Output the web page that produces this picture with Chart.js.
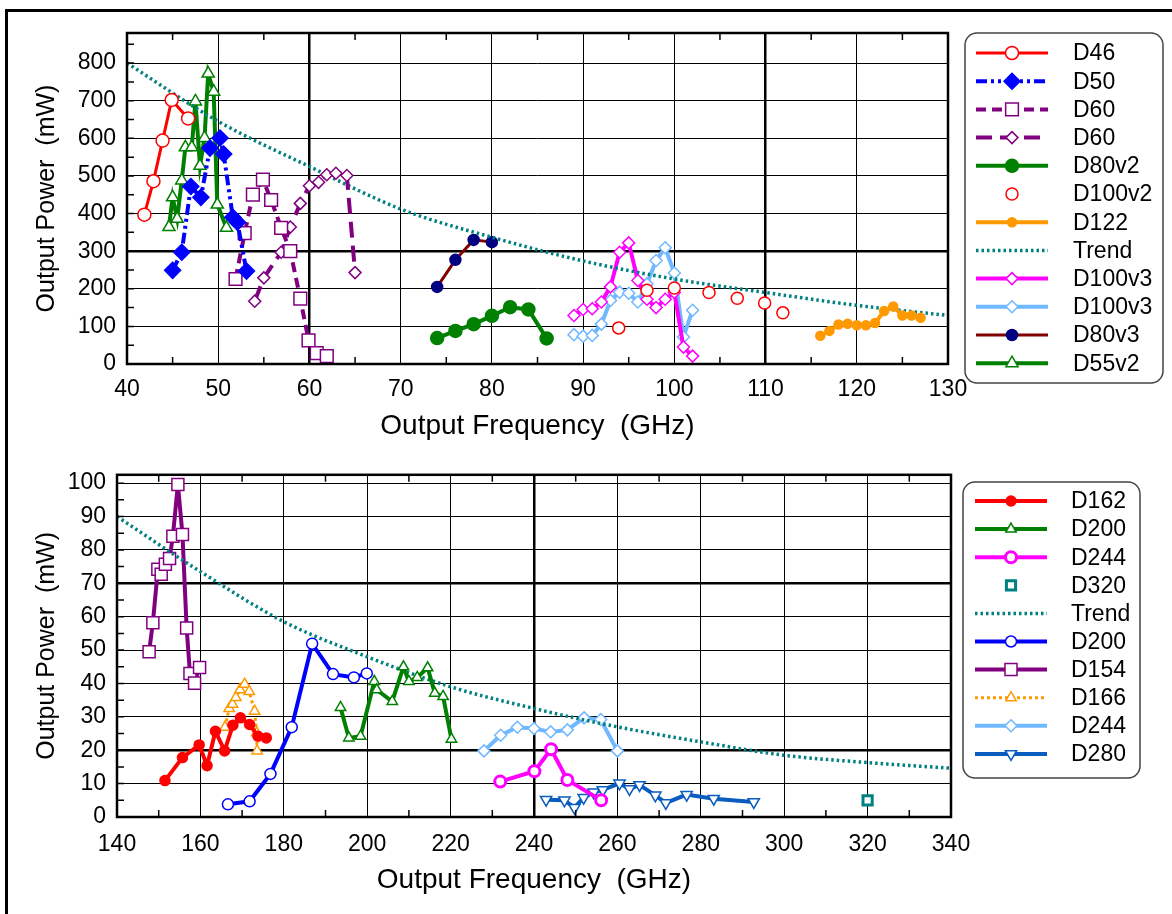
<!DOCTYPE html>
<html>
<head>
<meta charset="utf-8">
<script src="https://cdn.jsdelivr.net/npm/chart.js@4"></script>
<style>
  body { margin: 0; background: #fff; width: 1172px; height: 914px; overflow: hidden; position: relative; }
  #frame { position: absolute; left: 5px; top: 9px; width: 1200px; height: 940px; border-top: 3px solid #000; border-left: 3px solid #000; }
  canvas { position: absolute; left: 0; }
  #c1 { top: 0; }
  #c2 { top: 450px; }
</style>
</head>
<body>
<div id="frame"></div>
<canvas id="c1" width="1172" height="450"></canvas>
<canvas id="c2" width="1172" height="464"></canvas>
<script>
// ---- upper panel: 40-130 GHz (frequency GHz, power mW) ----
const d46F = [41.9, 42.9, 43.9, 44.9, 46.7];
const d46P = [397, 486, 594, 702, 653];
const d50F = [45, 46, 47, 48.1, 49.1, 50.2, 50.6, 51.6, 52.1, 53.1];
const d50P = [249, 297, 472, 443, 574, 601, 558, 390, 377, 247];
const d60sqF = [51.9, 52.9, 53.8, 54.9, 55.8, 56.9, 57.9, 59, 59.9, 60.8, 61.9];
const d60sqP = [226, 348, 450, 490, 436, 362, 300, 174, 63, 29, 21];
const d60diF = [54, 55, 56.9, 57.9, 59, 60, 61, 61.9, 62.9, 64.1, 65];
const d60diP = [167, 229, 297, 364, 427, 474, 483, 503, 507, 501, 243];
const d80v2F = [74, 76, 78, 80, 82, 84, 86];
const d80v2P = [69, 88, 106, 128, 151, 145, 68];
const d100v2F = [93.9, 97, 100, 103.8, 106.9, 109.9, 111.9];
const d100v2P = [96, 196, 202, 190, 175, 162, 136];
const d122F = [116, 117, 118, 119, 120, 121, 122, 123, 124, 125, 126, 127];
const d122P = [75, 88, 105, 107, 103, 103, 109, 141, 153, 129, 129, 123];
const trend1F = [40, 50, 60, 70, 80, 90, 100, 110, 120, 130];
const trend1P = [800, 645, 525, 412, 337, 274, 226, 190, 156, 129];
const d100v3aF = [89, 90, 91, 92, 93, 94, 95, 96, 97, 98, 99, 100, 101, 102];
const d100v3aP = [129, 145, 147, 165, 205, 297, 322, 222, 172, 150, 172, 190, 45, 21];
const d100v3bF = [89, 90, 91, 92, 93, 94, 95, 96, 97, 98, 99, 100, 101, 102];
const d100v3bP = [78, 74, 76, 106, 169, 191, 188, 165, 213, 275, 309, 242, 72, 143];
const d80v3F = [74, 76, 78, 80];
const d80v3P = [205, 277, 330, 324];
const d55v2F = [44.6, 45, 45.5, 46, 46.4, 47.1, 47.5, 48, 48.5, 48.9, 49.5, 49.9, 50.9];
const d55v2P = [364, 443, 386, 488, 576, 576, 698, 527, 601, 772, 724, 424, 362];

// ---- lower panel: 140-340 GHz ----
const d162F = [151.5, 155.7, 159.7, 161.6, 163.6, 165.8, 167.8, 169.6, 171.8, 173.8, 175.8];
const d162P = [10.9, 17.8, 21.6, 15.4, 25.7, 19.8, 27.5, 29.7, 27.7, 24.2, 23.7];
const d200gF = [193.6, 195.6, 198.4, 201.7, 202.3, 206, 208.7, 210, 212, 214.5, 216.2, 218.2, 220.2];
const d200gP = [32.8, 23.7, 24.2, 40.6, 38.1, 34.6, 45, 40.6, 41.8, 44.7, 37.1, 36.1, 23.3];
const d244mF = [231.9, 240.1, 244.1, 248, 256.1];
const d244mP = [10.6, 13.7, 20.3, 11.1, 5.0];
const d320F = [320];
const d320P = [5.0];
const trend2F = [140, 160, 180, 200, 220, 240, 260, 280, 300, 320, 340];
const trend2P = [90, 73.5, 58.5, 48, 39, 32.5, 27, 22.5, 18.5, 16.3, 14.6];
const d200bF = [166.6, 171.8, 176.8, 181.9, 186.8, 191.8, 196.8, 199.9];
const d200bP = [3.8, 4.7, 12.9, 26.9, 51.9, 42.8, 41.8, 43];
const d154F = [147.7, 148.6, 149.8, 150.6, 151.6, 152.6, 153.4, 154.6, 155.7, 156.7, 157.5, 158.6, 159.8];
const d154P = [49.5, 58.2, 74.2, 72.7, 75.7, 77.4, 84.1, 99.6, 84.6, 56.6, 43, 40.1, 44.8];
const d166F = [165.9, 166.9, 167.7, 168.5, 169.5, 170.6, 171.7, 173, 173.5, 173.6];
const d166P = [26.9, 32.5, 33.8, 35.8, 38.1, 39.8, 37.6, 31.7, 25.2, 19.8];
const d244lF = [228, 232, 236, 240, 244, 248, 252, 256, 260];
const d244lP = [19.8, 24.5, 26.9, 26.5, 25.5, 26.1, 29.7, 29.2, 19.8];
const d280F = [242.9, 247.3, 249.7, 251.9, 254.3, 256.5, 260.5, 262.9, 265.3, 269.1, 271.6, 276.6, 283.1, 292.7];
const d280P = [5.2, 5, 2.8, 5.8, 7.4, 8.1, 10.1, 8.4, 9.6, 6.5, 4.2, 6.7, 5.5, 4.5];

const FONT = 'Arial, "Liberation Sans", Helvetica, sans-serif';
Chart.defaults.font.family = FONT;
Chart.defaults.color = '#000';

function pts(f, p) { return f.map((x, i) => ({ x: x, y: p[i] })); }

// true when v sits on a multiple of step (ticks can carry float noise)
function onStep(v, step) { return Math.abs(v - Math.round(v / step) * step) < 1e-6; }

function series(label, f, p, style) {
  return Object.assign({
    label: label,
    data: pts(f, p),
    borderWidth: 3,
    tension: 0,
    pointRadius: 6,
    pointHoverRadius: 6,
    pointBorderWidth: 1.5,
    pointBackgroundColor: '#fff'
  }, style);
}

// frame round the plot + short inward ticks
const framePlugin = {
  id: 'frame',
  afterDraw(chart, args, o) {
    const { ctx, chartArea: a, scales } = chart;
    ctx.save();
    ctx.strokeStyle = '#000';
    ctx.lineWidth = 1.5;
    ctx.beginPath();
    for (let v = o.xFrom; v < scales.x.max; v += o.xStep) {
      const px = scales.x.getPixelForValue(v);
      ctx.moveTo(px, a.bottom); ctx.lineTo(px, a.bottom - 7);
      ctx.moveTo(px, a.top); ctx.lineTo(px, a.top + 7);
    }
    for (let v = o.yStep; v < scales.y.max; v += o.yStep) {
      const py = scales.y.getPixelForValue(v);
      ctx.moveTo(a.left, py); ctx.lineTo(a.left + 7, py);
    }
    ctx.stroke();
    ctx.lineWidth = 2.5;
    ctx.strokeRect(a.left, a.top, a.right - a.left, a.bottom - a.top);
    ctx.restore();
  }
};

// legend box to the right: line sample with the marker in the middle
const sideLegend = {
  id: 'sideLegend',
  afterDraw(chart, args, o) {
    const ctx = chart.ctx;
    ctx.save();
    ctx.fillStyle = '#fff';
    ctx.strokeStyle = '#444';
    ctx.lineWidth = 1.5;
    ctx.beginPath();
    ctx.roundRect(o.x, o.y, o.w, o.h, 12);
    ctx.fill();
    ctx.stroke();
    chart.data.datasets.forEach((ds, i) => {
      const y = o.y + o.first + i * o.row;
      const cx = (o.x0 + o.x1) / 2;
      if (ds.showLine !== false) {
        ctx.setLineDash(ds.borderDash || []);
        ctx.strokeStyle = ds.borderColor;
        ctx.lineWidth = ds.borderWidth;
        ctx.beginPath();
        ctx.moveTo(o.x0, y);
        ctx.lineTo(o.x1, y);
        ctx.stroke();
      }
      ctx.setLineDash([]);
      if (ds.pointRadius > 0) {
        ctx.fillStyle = ds.pointBackgroundColor;
        ctx.strokeStyle = ds.pointBorderColor;
        ctx.lineWidth = ds.pointBorderWidth;
        Chart.helpers.drawPoint(ctx, {
          pointStyle: ds.pointStyle,
          rotation: ds.pointRotation || 0,
          radius: ds.pointRadius,
          borderWidth: ds.pointBorderWidth
        }, cx, y);
      }
      ctx.fillStyle = '#000';
      ctx.font = '23px ' + FONT;
      ctx.textBaseline = 'middle';
      ctx.fillText(ds.label, o.tx, y + 1);
    });
    ctx.restore();
  }
};

const TEAL = '#008080';

new Chart(document.getElementById('c1'), {
  type: 'line',
  data: {
    datasets: [
      series('D46', d46F, d46P, { borderColor: '#ff0000', pointBorderColor: '#ff0000', pointStyle: 'circle', pointRadius: 6.5 }),
      series('D50', d50F, d50P, { borderColor: '#0000ff', borderWidth: 4, borderDash: [11, 4, 3, 4, 3, 4], pointBorderColor: '#0000ff', pointBackgroundColor: '#0000ff', pointStyle: 'rectRot', pointRadius: 8 }),
      series('D60', d60sqF, d60sqP, { borderColor: '#800080', borderWidth: 4, borderDash: [10, 6], pointBorderColor: '#800080', pointStyle: 'rect', pointRadius: 9 }),
      series('D60', d60diF, d60diP, { borderColor: '#800080', borderWidth: 4, borderDash: [16, 8], pointBorderColor: '#800080', pointStyle: 'rectRot', pointRadius: 6 }),
      series('D80v2', d80v2F, d80v2P, { borderColor: '#008000', borderWidth: 4, pointBorderColor: '#008000', pointBackgroundColor: '#008000', pointStyle: 'circle', pointRadius: 6.5 }),
      series('D100v2', d100v2F, d100v2P, { showLine: false, borderColor: '#ff0000', pointBorderColor: '#ff0000', pointStyle: 'circle', pointRadius: 6 }),
      series('D122', d122F, d122P, { borderColor: '#ff9900', borderWidth: 4, pointBorderColor: '#ff9900', pointBackgroundColor: '#ff9900', pointStyle: 'circle', pointRadius: 4.5 }),
      series('Trend', trend1F, trend1P, { borderColor: TEAL, borderWidth: 3.5, borderDash: [2.5, 3], pointRadius: 0, cubicInterpolationMode: 'monotone' }),
      series('D100v3', d100v3aF, d100v3aP, { borderColor: '#ff00ff', borderWidth: 4, pointBorderColor: '#ff00ff', pointStyle: 'rectRot', pointRadius: 6 }),
      series('D100v3', d100v3bF, d100v3bP, { borderColor: '#70b8ff', borderWidth: 4, pointBorderColor: '#70b8ff', pointStyle: 'rectRot', pointRadius: 6 }),
      series('D80v3', d80v3F, d80v3P, { borderColor: '#800000', pointBorderColor: '#000080', pointBackgroundColor: '#000080', pointStyle: 'circle', pointRadius: 5.5 }),
      series('D55v2', d55v2F, d55v2P, { borderColor: '#008000', borderWidth: 4, pointBorderColor: '#008000', pointStyle: 'triangle', pointRadius: 7 })
    ]
  },
  options: {
    responsive: false,
    animation: false,
    layout: { padding: { left: 28, top: 33, right: 224, bottom: 3 } },
    plugins: {
      legend: { display: false },
      tooltip: { enabled: false },
      frame: { xFrom: 45, xStep: 10, yStep: 50 },
      sideLegend: { x: 965, y: 33, w: 198, h: 350, first: 20, row: 28.2, x0: 976, x1: 1048, tx: 1073 }
    },
    scales: {
      x: {
        type: 'linear', min: 40, max: 130,
        ticks: { stepSize: 10, padding: 12, autoSkip: false, font: { size: 23 }, color: '#000' },
        grid: { color: '#000', lineWidth: c => (c.tick.value === 60 || c.tick.value === 110) ? 2.5 : 1, drawTicks: false },
        border: { display: false },
        title: { display: true, text: 'Output Frequency  (GHz)', font: { size: 28 }, color: '#000' },
        afterFit: s => { s.height = 83; }
      },
      y: {
        min: 0, max: 880,
        ticks: { stepSize: 50, includeBounds: false, padding: 11, autoSkip: false, font: { size: 23 }, color: '#000', callback: v => (onStep(v, 100) && v <= 800) ? Math.round(v) : null },
        grid: {
          color: c => onStep(c.tick.value, 100) ? '#000' : '#c8c8c8',
          lineWidth: c => c.tick.value === 300 ? 2.5 : 1,
          drawTicks: false
        },
        border: { display: false },
        title: { display: true, text: 'Output Power  (mW)', font: { size: 25 }, color: '#000' },
        afterFit: s => { s.width = 99; }
      }
    }
  },
  plugins: [framePlugin, sideLegend]
});

new Chart(document.getElementById('c2'), {
  type: 'line',
  data: {
    datasets: [
      series('D162', d162F, d162P, { borderColor: '#ff0000', borderWidth: 4, pointBorderColor: '#ff0000', pointBackgroundColor: '#ff0000', pointStyle: 'circle', pointRadius: 5 }),
      series('D200', d200gF, d200gP, { borderColor: '#008000', borderWidth: 4, pointBorderColor: '#008000', pointStyle: 'triangle', pointRadius: 6 }),
      series('D244', d244mF, d244mP, { borderColor: '#ff00ff', borderWidth: 4, pointBorderColor: '#ff00ff', pointBorderWidth: 3, pointStyle: 'circle', pointRadius: 5.5 }),
      series('D320', d320F, d320P, { showLine: false, borderColor: TEAL, pointBorderColor: TEAL, pointBorderWidth: 3, pointStyle: 'rect', pointRadius: 6.5 }),
      series('Trend', trend2F, trend2P, { borderColor: TEAL, borderWidth: 3.5, borderDash: [2.5, 3], pointRadius: 0, cubicInterpolationMode: 'monotone' }),
      series('D200', d200bF, d200bP, { borderColor: '#0000ff', borderWidth: 4, pointBorderColor: '#0000ff', pointStyle: 'circle', pointRadius: 5.5 }),
      series('D154', d154F, d154P, { borderColor: '#800080', borderWidth: 4, pointBorderColor: '#800080', pointStyle: 'rect', pointRadius: 8.5 }),
      series('D166', d166F, d166P, { borderColor: '#ff9900', borderWidth: 3, borderDash: [3, 3], pointBorderColor: '#ff9900', pointStyle: 'triangle', pointRadius: 6 }),
      series('D244', d244lF, d244lP, { borderColor: '#70b8ff', borderWidth: 4, pointBorderColor: '#70b8ff', pointStyle: 'rectRot', pointRadius: 6 }),
      series('D280', d280F, d280P, { borderColor: '#0a5cbf', borderWidth: 4, pointBorderColor: '#0a5cbf', pointStyle: 'triangle', pointRotation: 180, pointRadius: 6.5 })
    ]
  },
  options: {
    responsive: false,
    animation: false,
    layout: { padding: { left: 28, top: 21, right: 221, bottom: 13 } },
    plugins: {
      legend: { display: false },
      tooltip: { enabled: false },
      frame: { xFrom: 150, xStep: 20, yStep: 5 },
      sideLegend: { x: 963, y: 32, w: 177, h: 296, first: 19, row: 28.1, x0: 975, x1: 1047, tx: 1071 }
    },
    scales: {
      x: {
        type: 'linear', min: 140, max: 340,
        ticks: { stepSize: 20, padding: 14, autoSkip: false, font: { size: 23 }, color: '#000' },
        grid: { color: '#000', lineWidth: c => c.tick.value === 240 ? 2.5 : 1, drawTicks: false },
        border: { display: false },
        title: { display: true, text: 'Output Frequency  (GHz)', font: { size: 28 }, color: '#000' },
        afterFit: s => { s.height = 84; }
      },
      y: {
        min: 0, max: 102.5,
        ticks: { stepSize: 5, includeBounds: false, padding: 11, autoSkip: false, font: { size: 23 }, color: '#000', callback: v => (onStep(v, 10) && v <= 100.001) ? Math.round(v) : null },
        grid: {
          color: c => onStep(c.tick.value, 10) ? '#000' : '#c8c8c8',
          lineWidth: c => (c.tick.value === 20 || c.tick.value === 70) ? 2.5 : 1,
          drawTicks: false
        },
        border: { display: false },
        title: { display: true, text: 'Output Power  (mW)', font: { size: 25 }, color: '#000' },
        afterFit: s => { s.width = 89; }
      }
    }
  },
  plugins: [framePlugin, sideLegend]
});
</script>
</body>
</html>
